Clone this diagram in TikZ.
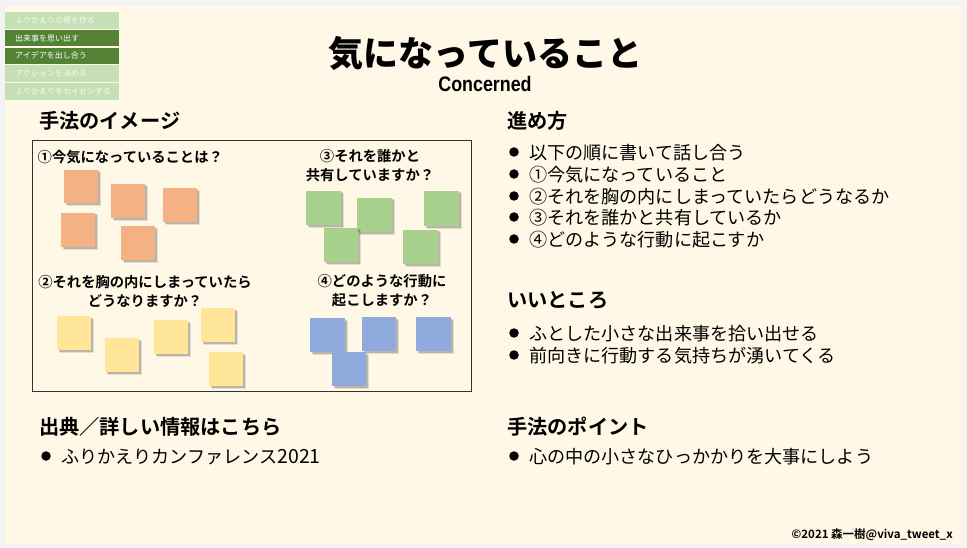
\documentclass[tikz,border=0pt]{standalone}
\usepackage{fontspec}
\setmainfont{Noto Sans CJK JP}
\newfontfamily\jpb{Noto Sans CJK JP Bold}
\newfontfamily\jpk{Noto Sans CJK JP Black}
\newfontfamily\lat{Liberation Sans Bold}
\definecolor{pagebg}{HTML}{F3F3F3}
\definecolor{cream}{HTML}{FFF8E7}
\definecolor{tablight}{HTML}{C5E0B4}
\definecolor{tabdark}{HTML}{548235}
\definecolor{orangenote}{HTML}{F4B183}
\definecolor{greennote}{HTML}{A9D18E}
\definecolor{yellownote}{HTML}{FFE699}
\definecolor{bluenote}{HTML}{8FAADC}
\tikzset{
  x=1pt,y=-1pt,
  head/.style={inner sep=0pt,anchor=west,font=\fontsize{20.2}{20}\jpb,text=black},
  body/.style={inner sep=0pt,anchor=west,font=\fontsize{18.1}{18}\selectfont,text=black},
  qtxt/.style={inner sep=0pt,align=center,font=\fontsize{14.3}{19}\jpb,text=black},
  tabtxt/.style={inner sep=0pt,anchor=west,font=\fontsize{8}{8}\selectfont,text=white},
  bul/.style={circle,fill=black,inner sep=0pt,minimum size=9.5pt},
}
\newcommand{\note}[5]{%
  \fill[black,opacity=.10] (#2+2.5,#3+2.5) rectangle (#4+3,#5+3);
  \fill[black,opacity=.18] (#2+1.5,#3+1.5) rectangle (#4+1.8,#5+1.8);
  \fill[#1] (#2,#3) rectangle (#4,#5);}
\begin{document}
\begin{tikzpicture}
\useasboundingbox (0,0) rectangle (967,548);
\fill[pagebg] (0,0) rectangle (967,548);
\fill[cream] (5,6) rectangle (963,544);
% tabs
\fill[tablight] (5,12) rectangle (119,29);
\fill[tabdark] (5,30) rectangle (119,46.5);
\fill[tabdark] (5,48) rectangle (119,64);
\fill[tablight] (5,65.5) rectangle (119,82);
\fill[tablight] (5,83.5) rectangle (119,100);
\node[tabtxt,opacity=.85] (t1) at (15,20.5) {ふりかえりの場を作る};
\node[tabtxt] (t2) at (15,38) {出来事を思い出す};
\node[tabtxt] (t3) at (15,55) {アイデアを出し合う};
\node[tabtxt,opacity=.85] (t4) at (15,73) {アクションを決める};
\node[tabtxt,opacity=.85] (t5) at (15,91) {ふりかえりをカイゼンする};
% title
\node[inner sep=0pt,font=\fontsize{35}{35}\jpk] (title) at (485.5,53) {気になっていること};
\node[inner sep=0pt,font=\fontsize{21}{21}\lat,xscale=.85,transform shape] (sub) at (485,84) {Concerned};
% left
\node[head] (h1) at (39,121) {手法のイメージ};
\draw[line width=1pt,black!80] (32,141) rectangle (471,391);
\node[qtxt,anchor=west] (q1) at (37.5,157) {①今気になっていることは？};
\node[qtxt] (q3) at (370,166) {③それを誰かと\\共有していますか？};
\node[qtxt] (q2) at (145,291) {②それを胸の内にしまっていたら\\どうなりますか？};
\node[qtxt] (q4) at (382,291) {④どのような行動に\\起こしますか？};
\note{orangenote}{64}{170}{98}{203}
\note{orangenote}{111}{184}{145}{218}
\note{orangenote}{163}{188.5}{197}{222}
\note{orangenote}{61}{213}{95}{247}
\note{orangenote}{121}{226.5}{155}{260}
\note{greennote}{306}{191}{341}{225}
\note{greennote}{357}{198}{392}{232}
\note{greennote}{424}{191}{459}{226}
\note{greennote}{324}{228}{358}{262}
\note{greennote}{403}{230}{438}{264}
\note{yellownote}{57}{316}{91}{350}
\note{yellownote}{105}{338}{139}{372}
\note{yellownote}{154}{320}{188}{354}
\note{yellownote}{201}{308}{235}{342}
\note{yellownote}{209}{352}{243}{386}
\note{bluenote}{310}{318}{345}{352}
\note{bluenote}{362}{317}{396}{351}
\note{bluenote}{416}{317}{451}{351}
\note{bluenote}{332}{352}{366}{386}
\node[head] (h2) at (39,427) {出典／詳しい情報はこちら};
\node[bul] (b0) at (46,456) {};
\node[body] (l0) at (61,457) {ふりかえりカンファレンス\fontsize{19.5}{18}\selectfont 2021};
% right
\node[head] (h3) at (507,121) {進め方};
\foreach \y/\t in {152/以下の順に書いて話し合う,174/①今気になっていること,196/②それを胸の内にしまっていたらどうなるか,217/③それを誰かと共有しているか,239/④どのような行動に起こすか}{
  \node[bul] at (514,\y) {};
  \node[body] at (529,\y+1) {\t};
}
\node[head] (h4) at (507,300) {いいところ};
\foreach \y/\t in {333/ふとした小さな出来事を拾い出せる,355/前向きに行動する気持ちが湧いてくる}{
  \node[bul] at (514,\y) {};
  \node[body] at (529,\y+1) {\t};
}
\node[head] (h5) at (507,427) {手法のポイント};
\node[bul] (b9) at (514,456) {};
\node[body] (l9) at (529,457) {心の中の小さなひっかかりを大事にしよう};
\node[inner sep=0pt,anchor=east,font=\fontsize{11.5}{12}\jpb] (c) at (953,535) {©2021 森一樹@viva\_tweet\_x};
\end{tikzpicture}
\end{document}
